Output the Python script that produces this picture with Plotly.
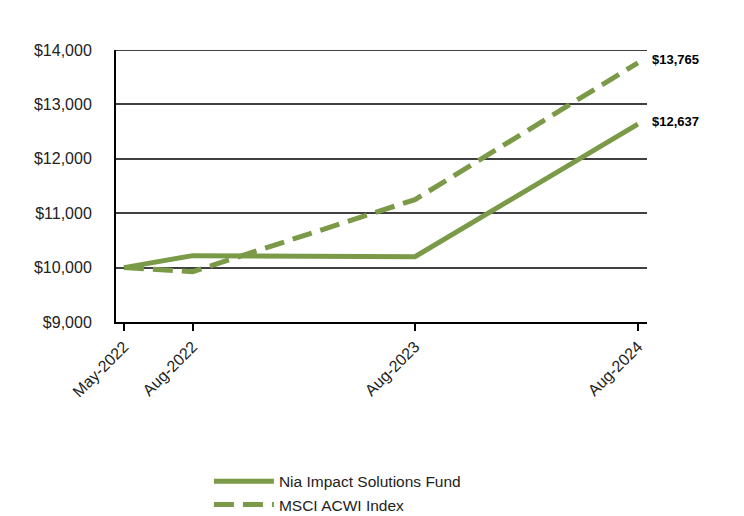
import plotly.graph_objects as go

dates = ["2022-05-10", "2022-08-31", "2023-08-31", "2024-08-31"]
tick_labels = ["May-2022", "Aug-2022", "Aug-2023", "Aug-2024"]
fund_name = "Nia Impact Solutions Fund"
index_name = "MSCI ACWI Index"
fund_values = [10000, 10220, 10200, 12637]
index_values = [10000, 9926, 11250, 13765]
y_ticks = [9000, 10000, 11000, 12000, 13000, 14000]

green = "#7A9A48"

fig = go.Figure()
fig.add_trace(go.Scatter(x=dates, y=fund_values, mode="lines", name=fund_name,
                         line=dict(color=green, width=5)))
fig.add_trace(go.Scatter(x=dates, y=index_values, mode="lines", name=index_name,
                         line=dict(color=green, width=5, dash="20px,9px")))

for vals in (fund_values, index_values):
    fig.add_annotation(x=dates[-1], y=vals[-1], text="<b>$" + f"{vals[-1]:,}" + "</b>",
                       showarrow=False, xanchor="left", xshift=12, yshift=3,
                       font=dict(family="Liberation Sans, Arial", size=13, color="#000"))

# top gridline at the upper edge of the range
fig.add_shape(type="line", xref="paper", x0=0, x1=1, yref="y", y0=y_ticks[-1], y1=y_ticks[-1],
              line=dict(color="#404040", width=2), layer="below")

fig.update_layout(
    width=744, height=516,
    margin=dict(l=116, r=97, t=50, b=194, autoexpand=False),
    paper_bgcolor="white", plot_bgcolor="white",
    font=dict(family="Liberation Sans, Arial", size=16, color="#222"),
    showlegend=True,
    legend=dict(x=0.175, y=-0.525, xanchor="left", yanchor="top",
                font=dict(size=15.5, color="#222"), tracegroupgap=0,
                itemwidth=60, bgcolor="rgba(0,0,0,0)"),
)
fig.update_xaxes(type="date", range=["2022-04-27", "2024-09-15"], automargin=False,
                 tickvals=dates, ticktext=tick_labels, tickangle=-45,
                 showgrid=False, showline=True, linecolor="#000", linewidth=2,
                 ticks="outside", ticklen=7, tickwidth=2, tickcolor="#000",
                 zeroline=False)
fig.update_yaxes(range=[y_ticks[0], y_ticks[-1]], tickvals=y_ticks,
                 tickformat="$,.0f", showgrid=True, gridcolor="#404040", gridwidth=2,
                 showline=True, linecolor="#000", linewidth=2, ticks="", ticklabelstandoff=19,
                 automargin=False, zeroline=False)

fig.write_html("out.html")
